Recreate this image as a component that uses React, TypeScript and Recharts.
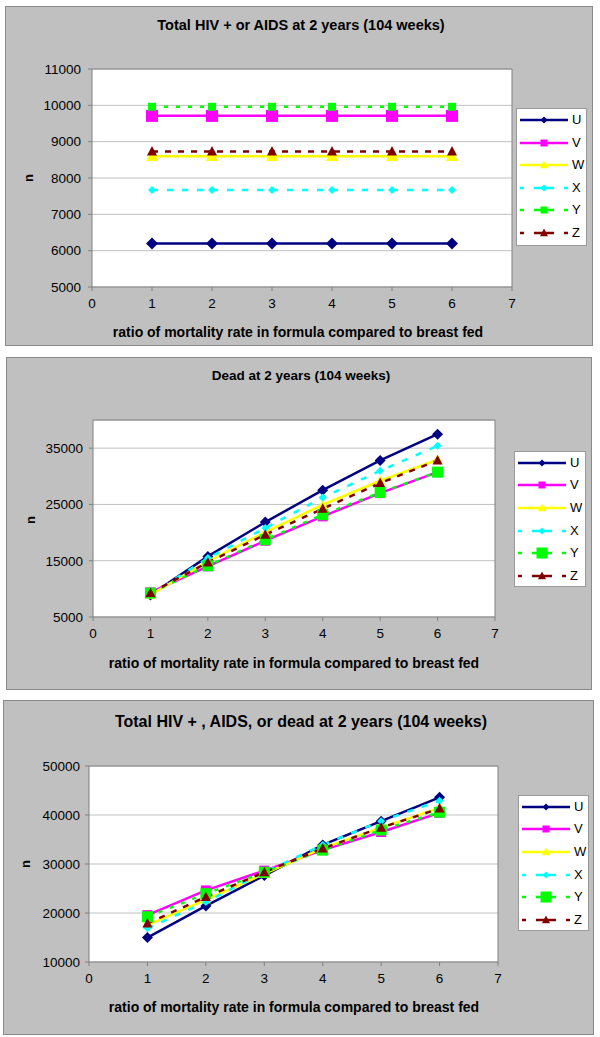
import React from "react";
import { LineChart, Line, XAxis, YAxis, CartesianGrid, ReferenceLine } from "recharts";

const ratios = [1, 2, 3, 4, 5, 6];
const xTicks = [0, 1, 2, 3, 4, 5, 6, 7];

// Total HIV + or AIDS at 2 years (104 weeks)
const hivU = [6200, 6200, 6200, 6200, 6200, 6200];
const hivV = [9710, 9710, 9710, 9710, 9710, 9710];
const hivW = [8600, 8600, 8600, 8600, 8600, 8600];
const hivX = [7670, 7670, 7670, 7670, 7670, 7670];
const hivY = [9960, 9960, 9960, 9960, 9960, 9960];
const hivZ = [8730, 8730, 8730, 8730, 8730, 8730];
const hivTicks = [5000, 6000, 7000, 8000, 9000, 10000, 11000];

// Dead at 2 years (104 weeks)
const deadU = [8900, 15770, 21860, 27540, 32810, 37490];
const deadV = [9380, 14000, 18550, 22870, 27010, 30740];
const deadW = [8960, 14880, 20090, 24940, 29200, 32930];
const deadX = [9000, 15470, 20800, 26240, 30980, 35410];
const deadY = [9260, 14110, 18730, 23170, 27130, 30740];
const deadZ = [9260, 14700, 19620, 24230, 28790, 32810];
const deadTicks = [5000, 15000, 25000, 35000];

// Total HIV +, AIDS, or dead at 2 years (104 weeks)
const allU = [14980, 21450, 27640, 33900, 38750, 43600];
const allV = [19560, 24610, 28650, 32830, 36530, 40440];
const allW = [17540, 22730, 27980, 33230, 37410, 41450];
const allX = [16870, 22260, 28320, 33900, 38750, 42930];
const allY = [19230, 23940, 28320, 32830, 36940, 40570];
const allZ = [17880, 23270, 28320, 33170, 37410, 41310];
const allTicks = [10000, 20000, 30000, 40000, 50000];

const FONT = '"Liberation Sans", Arial, sans-serif';

type Shape = "diamond" | "square" | "triangle";
type SeriesStyle = { name: string; color: string; shape: Shape; dash?: string };

const SERIES: SeriesStyle[] = [
  { name: "U", color: "#000080", shape: "diamond" },
  { name: "V", color: "#ff00ff", shape: "square" },
  { name: "W", color: "#ffff00", shape: "triangle" },
  { name: "X", color: "#00ffff", shape: "diamond", dash: "6 9" },
  { name: "Y", color: "#00ff00", shape: "square", dash: "4 8" },
  { name: "Z", color: "#800000", shape: "triangle", dash: "6 7" },
];

function marker(shape: Shape, cx: number, cy: number, size: number, color: string, key?: string) {
  const h = size / 2;
  if (shape === "square") {
    return <rect key={key} x={cx - h} y={cy - h} width={size} height={size} fill={color} />;
  }
  if (shape === "diamond") {
    return (
      <polygon key={key} points={`${cx},${cy - h} ${cx + h},${cy} ${cx},${cy + h} ${cx - h},${cy}`} fill={color} />
    );
  }
  return (
    <polygon
      key={key}
      points={`${cx},${cy - h * 1.1} ${cx + h},${cy + h * 0.8} ${cx - h},${cy + h * 0.8}`}
      fill={color}
    />
  );
}

type Box = { l: number; t: number; r: number; b: number };

type ChartProps = {
  title: string;
  titleSize: number;
  titleY: number;
  values: number[][];
  yDomain: [number, number];
  yTicks: number[];
  top: number;
  height: number;
  panel: Box;
  plot: Box;
  legend: Box;
  legendRows: number[];
  sizes: number[];
  legendSizes: number[];
  xLabelY: number;
  xLabelX: number;
  nPos: [number, number];
  yTickMargin: number;
};

function Legend({ legend, legendRows, legendSizes }: ChartProps) {
  return (
    <>
      <div
        style={{
          position: "absolute",
          left: legend.l,
          top: legend.t,
          width: legend.r - legend.l,
          height: legend.b - legend.t,
          background: "#ffffff",
          border: "1px solid #9a9a9a",
          boxSizing: "border-box",
        }}
      />
      {SERIES.map((s, i) => (
        <div key={s.name} style={{ position: "absolute", left: legend.l + 3, top: legendRows[i] - 8, height: 16 }}>
          <svg width={52} height={16} style={{ position: "absolute", left: 0, top: 0 }}>
            <line
              x1={1}
              y1={8}
              x2={49}
              y2={8}
              stroke={s.color}
              strokeWidth={2.5}
              strokeDasharray={s.dash ? "4 10 20 10 4" : undefined}
            />
            {marker(s.shape, 25, 8, legendSizes[i], s.color)}
          </svg>
          <span
            style={{
              position: "absolute",
              left: 53,
              top: 0,
              lineHeight: "16px",
              fontSize: 13,
              fontFamily: FONT,
              color: "#000",
            }}
          >
            {s.name}
          </span>
        </div>
      ))}
    </>
  );
}

function Chart(props: ChartProps) {
  const { title, titleSize, titleY, values, yDomain, yTicks, top, height, panel, plot, sizes } = props;
  const rows = ratios.map((x, i) => {
    const row: Record<string, number> = { x };
    SERIES.forEach((s, k) => {
      row[s.name] = values[k][i];
    });
    return row;
  });
  const axisW = 60;
  const axisH = 30;
  const margin = {
    top: plot.t - top,
    right: 600 - plot.r,
    bottom: top + height - plot.b - axisH,
    left: plot.l - axisW,
  };
  const tickStyle = { fill: "#000", fontSize: 13.5, fontFamily: FONT };
  return (
    <>
      <div
        style={{
          position: "absolute",
          left: panel.l,
          top: panel.t,
          width: panel.r - panel.l,
          height: panel.b - panel.t,
          background: "#c0c0c0",
          border: "1px solid #8a8a8a",
          boxSizing: "border-box",
        }}
      />
      <div
        style={{
          position: "absolute",
          left: 0,
          width: 600,
          top: titleY - 12,
          height: 24,
          lineHeight: "24px",
          textAlign: "center",
          fontFamily: FONT,
          fontWeight: "bold",
          fontSize: titleSize,
          paddingLeft: 2,
          boxSizing: "border-box",
        }}
      >
        {title}
      </div>
      <div style={{ position: "absolute", left: 0, top }}>
        <LineChart width={600} height={height} data={rows} margin={margin}>
          <CartesianGrid vertical={false} stroke="#c0c0c0" fill="#ffffff" />
          <XAxis
            dataKey="x"
            type="number"
            domain={[0, 7]}
            ticks={xTicks}
            height={axisH}
            tickSize={4}
            tickMargin={7}
            stroke="#808080"
            tick={tickStyle}
          />
          <YAxis
            type="number"
            domain={yDomain}
            ticks={yTicks}
            width={axisW}
            tickSize={4}
            tickMargin={props.yTickMargin}
            stroke="#808080"
            tick={tickStyle}
          />
          <ReferenceLine y={yDomain[1]} stroke="#808080" />
          <ReferenceLine x={7} stroke="#808080" />
          {SERIES.map((s, k) => (
            <Line
              key={s.name}
              dataKey={s.name}
              type="linear"
              stroke={s.color}
              strokeWidth={2.5}
              strokeDasharray={s.dash}
              isAnimationActive={false}
              activeDot={false}
              dot={(p: any) => marker(s.shape, p.cx, p.cy, sizes[k], s.color, `${s.name}-${p.index}`)}
            />
          ))}
        </LineChart>
      </div>
      <div
        style={{
          position: "absolute",
          left: props.xLabelX - 250,
          width: 500,
          top: props.xLabelY - 10,
          height: 20,
          lineHeight: "20px",
          textAlign: "center",
          fontFamily: FONT,
          fontWeight: "bold",
          fontSize: 14,
        }}
      >
        ratio of mortality rate in formula compared to breast fed
      </div>
      <div
        style={{
          position: "absolute",
          left: props.nPos[0] - 10,
          top: props.nPos[1] - 10,
          width: 20,
          height: 20,
          lineHeight: "20px",
          textAlign: "center",
          transform: "rotate(-90deg)",
          fontFamily: FONT,
          fontWeight: "bold",
          fontSize: 13,
        }}
      >
        n
      </div>
      <Legend {...props} />
    </>
  );
}

export default function App() {
  return (
    <div style={{ position: "absolute", left: 0, top: 0, width: 600, height: 1037, background: "#ffffff" }}>
      <Chart
        title="Total HIV + or AIDS at 2 years (104 weeks)"
        titleSize={14.5}
        titleY={25}
        values={[hivU, hivV, hivW, hivX, hivY, hivZ]}
        yDomain={[5000, 11000]}
        yTicks={hivTicks}
        top={0}
        height={345}
        panel={{ l: 5, t: 6, r: 593, b: 346 }}
        plot={{ l: 92, t: 69, r: 512, b: 287 }}
        legend={{ l: 516, t: 108, r: 587, b: 246 }}
        legendRows={[120, 143, 165, 188, 210, 233]}
        sizes={[12, 12, 12, 8, 8, 10]}
        legendSizes={[7, 7, 8, 7, 7, 8]}
        xLabelY={332}
        xLabelX={298}
        nPos={[29, 178]}
        yTickMargin={7}
      />
      <Chart
        title="Dead at 2 years (104 weeks)"
        titleSize={13.5}
        titleY={376}
        values={[deadU, deadV, deadW, deadX, deadY, deadZ]}
        yDomain={[5000, 40000]}
        yTicks={deadTicks}
        top={345}
        height={345}
        panel={{ l: 6, t: 357, r: 592, b: 690 }}
        plot={{ l: 93, t: 420, r: 495, b: 617 }}
        legend={{ l: 514, t: 451, r: 586, b: 587 }}
        legendRows={[463, 485, 508, 531, 553, 576]}
        sizes={[11, 10, 10, 8, 11, 10]}
        legendSizes={[7, 7, 8, 7, 11, 8]}
        xLabelY={663}
        xLabelX={294}
        nPos={[31, 520]}
        yTickMargin={6}
      />
      <Chart
        title="Total HIV + , AIDS, or dead at 2 years (104 weeks)"
        titleSize={16}
        titleY={722}
        values={[allU, allV, allW, allX, allY, allZ]}
        yDomain={[10000, 50000]}
        yTicks={allTicks}
        top={690}
        height={347}
        panel={{ l: 3, t: 700, r: 594, b: 1035 }}
        plot={{ l: 89, t: 766, r: 498, b: 962 }}
        legend={{ l: 518, t: 795, r: 589, b: 931 }}
        legendRows={[807, 829, 852, 875, 897, 920]}
        sizes={[11, 10, 10, 8, 11, 10]}
        legendSizes={[7, 7, 8, 7, 11, 8]}
        xLabelY={1007}
        xLabelX={294}
        nPos={[26, 864]}
        yTickMargin={5}
      />
    </div>
  );
}
